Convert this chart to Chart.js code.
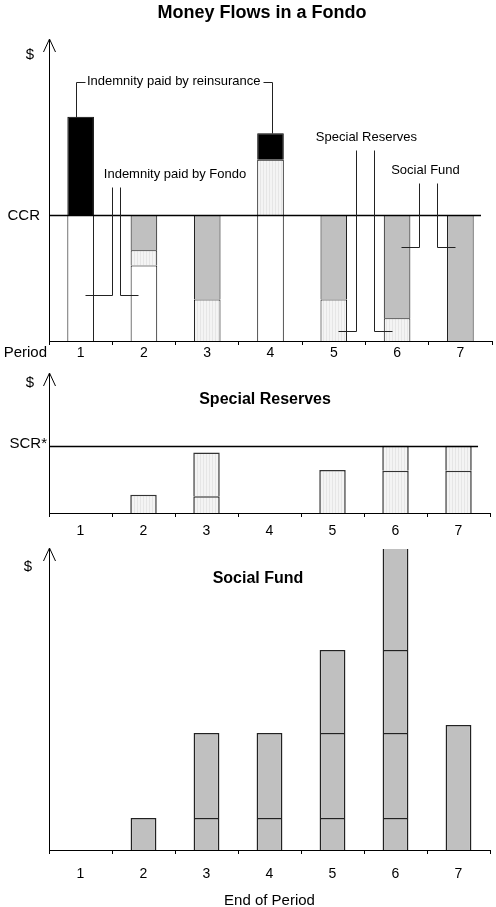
<!DOCTYPE html>
<html><head><meta charset="utf-8">
<script src="https://cdn.jsdelivr.net/npm/chart.js@4/dist/chart.umd.min.js"></script>
<style>
html,body{margin:0;padding:0;background:#fff;}
#wrap{position:relative;width:496px;height:907px;overflow:hidden;}
canvas{position:absolute;left:0;}
</style></head><body>
<div id="wrap">
<canvas id="c1" width="496" height="365" style="top:0px"></canvas>
<canvas id="c2" width="496" height="180" style="top:365px"></canvas>
<canvas id="c3" width="496" height="362" style="top:545px"></canvas>
</div>
<script>
// ---------- DATA ----------
const periods = ['1', '2', '3', '4', '5', '6', '7'];

// Top chart: money flows (CCR level = 100)
const ccrLevel = 100;
const topAxisMax = 239;
const flowFondoFunds     = [100, 60, null, 100, null, null, null];
const flowSpecialReserve = [null, 12, 33, 44, 33, 18, null];
const flowSocialFund     = [null, 28, 67, null, 67, 82, 100];
const flowReinsurance    = [78, null, null, 21, null, null, null];

// Middle chart: special reserves (SCR* = 100)
const scrLevel = 100;
const midAxisMax = 207;
const reserveLayer1 = [null, 27, 25, null, 64, 63, 63];
const reserveLayer2 = [null, null, 65, null, null, 37, 37];

// Bottom chart: social fund
const botAxisMax = 301;
const socialLayer1 = [null, 32, 32, 32, 32, 32, 125];
const socialLayer2 = [null, null, 85, 85, 85, 85, null];
const socialLayer3 = [null, null, null, null, 83, 83, null];
const socialLayer4 = [null, null, null, null, null, 103, null];

// ---------- STYLE ----------
const FONT = '"Liberation Sans", Arial, sans-serif';
Chart.defaults.color = '#000';
Chart.defaults.font.family = FONT;

function stipple() {
  const c = document.createElement('canvas');
  c.width = 3; c.height = 1;
  const g = c.getContext('2d');
  g.fillStyle = '#f4f4f4'; g.fillRect(0, 0, 3, 1);
  g.fillStyle = '#e6e6e6'; g.fillRect(2, 0, 1, 1);
  return g.createPattern(c, 'repeat');
}
const STIP = stipple();
const GRAY = '#c0c0c0';

// Leader annotations for the top chart, in (category index, value) space
const leaders = [
  { text: 'Indemnity paid by reinsurance', x: 0.10, y: 206, align: 'left',
    paths: [[[-0.073, 178], [-0.073, 206], [0.069, 206]],
            [[2.881, 206], [3.023, 206], [3.023, 165]]] },
  { text: 'Indemnity paid by Fondo', x: 1.491, y: 132.5, align: 'center',
    paths: [[[0.495, 122], [0.495, 36.5], [0.069, 36.5]],
            [[0.622, 122], [0.622, 36.5], [0.906, 36.5]]] },
  { text: 'Special Reserves', x: 4.516, y: 162, align: 'center',
    paths: [[[4.351, 151.6], [4.351, 7.9], [4.066, 7.9]],
            [[4.635, 151.6], [4.635, 7.9], [4.919, 7.9]]] },
  { text: 'Social Fund', x: 5.449, y: 135.7, align: 'center',
    paths: [[[5.346, 125.4], [5.346, 74.6], [5.062, 74.6]],
            [[5.630, 125.4], [5.630, 74.6], [5.915, 74.6]]] }
];

const decor = {
  id: 'decor',
  afterDraw(chart, args, o) {
    const ctx = chart.ctx, a = chart.chartArea;
    const xs = chart.scales.x, ys = chart.scales.y;
    ctx.save();
    ctx.strokeStyle = '#000'; ctx.fillStyle = '#000'; ctx.lineWidth = 1;
    // arrow head on y axis
    const L = Math.round(a.left) + 0.5;
    ctx.beginPath();
    ctx.moveTo(L - 6, a.top + 12); ctx.lineTo(L, a.top - 1); ctx.lineTo(L + 6, a.top + 12);
    ctx.stroke();
    // $ label
    ctx.font = '15px ' + FONT; ctx.textAlign = 'center'; ctx.textBaseline = 'middle';
    ctx.fillText('$', o.dollarX, a.top + o.dollarDy);
    // reference line
    if (o.ref) {
      const y = Math.round(ys.getPixelForValue(o.ref.value)) + 0.5;
      ctx.lineWidth = 1.5;
      ctx.beginPath(); ctx.moveTo(a.left, y); ctx.lineTo(xs.getPixelForValue(o.ref.end), y); ctx.stroke();
      ctx.lineWidth = 1;
      ctx.font = '15px ' + FONT; ctx.textAlign = 'right';
      ctx.fillText(o.ref.label, a.left + o.ref.dx, y + o.ref.dy);
    }
    // title
    if (o.title) {
      ctx.font = 'bold ' + o.title.size + 'px ' + FONT; ctx.textAlign = 'center';
      ctx.fillText(o.title.text, xs.getPixelForValue(o.title.x), a.top + o.title.dy);
    }
    // period label
    if (o.period) {
      ctx.font = '15px ' + FONT; ctx.textAlign = 'right';
      ctx.fillText(o.period, a.left - 2, a.bottom + 12);
    }
    // leaders
    if (o.leaders) {
      ctx.strokeStyle = '#222';
      o.leaders.forEach(ld => {
        ld.paths.forEach(p => {
          ctx.beginPath();
          p.forEach((pt, i) => {
            const px = Math.round(xs.getPixelForValue(pt[0])) + 0.5;
            const py = Math.round(ys.getPixelForValue(pt[1])) + 0.5;
            if (i === 0) ctx.moveTo(px, py); else ctx.lineTo(px, py);
          });
          ctx.stroke();
        });
        ctx.font = '13px ' + FONT; ctx.textAlign = ld.align; ctx.textBaseline = 'middle';
        ctx.fillText(ld.text, xs.getPixelForValue(ld.x), ys.getPixelForValue(ld.y));
      });
    }
    ctx.restore();
  }
};

function xScale(h, pad, title) {
  return {
    type: 'category', stacked: true, offset: true,
    grid: { display: true, drawOnChartArea: false, drawTicks: true, tickLength: 4, color: '#000', offset: true },
    border: { display: true, color: '#000', width: 1 },
    ticks: { color: '#000', font: { size: 14, family: FONT }, padding: pad, maxRotation: 0 },
    title: title ? { display: true, text: title, color: '#000', font: { size: 15, family: FONT }, padding: { top: 0, bottom: -3 } } : { display: false },
    afterFit: s => { s.height = h; }
  };
}
function yScale(max) {
  return {
    stacked: true, min: 0, max: max,
    ticks: { display: false }, grid: { display: false },
    border: { display: true, color: '#000', width: 1 },
    afterFit: s => { s.width = 49; }
  };
}
function ds(label, data, bg, bp, bw, bc) {
  return { label, data, backgroundColor: bg, borderColor: bc || '#000', borderWidth: bw,
           barPercentage: bp, categoryPercentage: 1 };
}
const base = {
  responsive: false, animation: false,
  events: [],
  plugins: { legend: { display: false }, tooltip: { enabled: false }, title: { display: false } }
};

// ---------- TOP CHART ----------
new Chart(document.getElementById('c1'), {
  type: 'bar',
  data: { labels: periods, datasets: [
    ds('Fondo funds', flowFondoFunds, '#ffffff', 0.42, 1),
    ds('Special Reserves', flowSpecialReserve, STIP, 0.42, 1),
    ds('Social Fund', flowSocialFund, GRAY, 0.42, 1),
    ds('Indemnity paid by reinsurance', flowReinsurance, '#000000', 0.42, 1)
  ]},
  options: Object.assign({}, base, {
    layout: { padding: { top: 40, right: 4, left: 0, bottom: 0 } },
    scales: { x: xScale(24, 0), y: yScale(topAxisMax) },
    plugins: Object.assign({}, base.plugins, { decor: {
      dollarX: 30, dollarDy: 15,
      ref: { value: ccrLevel, end: 6.326, label: 'CCR', dx: -9, dy: 0 },
      title: { text: 'Money Flows in a Fondo', x: 2.865, dy: -27, size: 18 },
      period: 'Period',
      leaders: leaders
    }})
  }),
  plugins: [decor]
});

// ---------- MIDDLE CHART ----------
new Chart(document.getElementById('c2'), {
  type: 'bar',
  data: { labels: periods, datasets: [
    ds('Reserve layer 1', reserveLayer1, STIP, 0.42, 1.5, '#333'),
    ds('Reserve layer 2', reserveLayer2, STIP, 0.42, 1.5, '#333')
  ]},
  options: Object.assign({}, base, {
    layout: { padding: { top: 9, right: 6, left: 0, bottom: 0 } },
    scales: { x: xScale(32, 6), y: yScale(midAxisMax) },
    plugins: Object.assign({}, base.plugins, { decor: {
      dollarX: 30, dollarDy: 9,
      ref: { value: scrLevel, end: 6.31, label: 'SCR*', dx: -2, dy: -3 },
      title: { text: 'Special Reserves', x: 2.929, dy: 26, size: 16 }
    }})
  }),
  plugins: [decor]
});

// ---------- BOTTOM CHART ----------
new Chart(document.getElementById('c3'), {
  type: 'bar',
  data: { labels: periods, datasets: [
    ds('Social layer 1', socialLayer1, GRAY, 0.41, 1.5, '#222'),
    ds('Social layer 2', socialLayer2, GRAY, 0.41, 1.5, '#222'),
    ds('Social layer 3', socialLayer3, GRAY, 0.41, 1.5, '#222'),
    ds('Social layer 4', socialLayer4, GRAY, 0.41, 1.5, '#222')
  ]},
  options: Object.assign({}, base, {
    layout: { padding: { top: 4, right: 6, left: 0, bottom: 0 } },
    scales: { x: xScale(57, 12, 'End of Period'), y: yScale(botAxisMax) },
    plugins: Object.assign({}, base.plugins, { decor: {
      dollarX: 28, dollarDy: 18,
      title: { text: 'Social Fund', x: 2.817, dy: 30, size: 16 }
    }})
  }),
  plugins: [decor]
});
</script>
</body></html>
